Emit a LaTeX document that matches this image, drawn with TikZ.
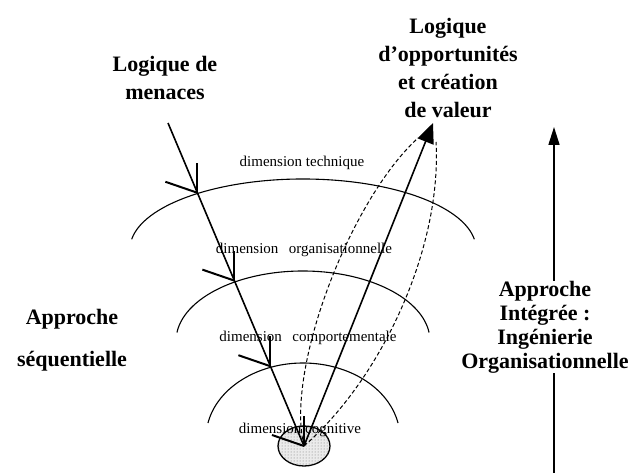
\documentclass[tikz,border=0pt]{standalone}
\usepackage{fontspec}
\setmainfont{Liberation Serif}
\usetikzlibrary{arrows.meta,calc,shapes.geometric,patterns}

\begin{document}
\begin{tikzpicture}[x=1pt,y=-1pt,
    big/.style={font=\fontsize{22}{28.3}\selectfont\bfseries, align=center, inner sep=0pt},
    dimlabel/.style={font=\fontsize{15}{18}\selectfont, inner sep=0pt},
    ring/.style={line width=1.1pt},
    barb/.style={line width=2pt},
    flow/.style={line width=1.6pt},
    dashflow/.style={line width=1pt, dash pattern=on 4pt off 2.5pt}]
  \useasboundingbox (0,0) rectangle (632,476);

  % cognitive core
  \node[draw, ellipse, line width=1.3pt, fill=black!8,
    postaction={pattern=dots, pattern color=black!55}, minimum width=52pt,
    minimum height=40pt, inner sep=0pt] (core) at (304,446) {};

  % the three rings (y axis points down)
  \draw[ring] (303,249) ++(-172:173 and 70)
    arc[start angle=-172, end angle=-8, x radius=173, y radius=70];
  \draw[ring] (303,341) ++(-173:127 and 70)
    arc[start angle=-173, end angle=-7, x radius=127, y radius=70];
  \draw[ring] (303,438) ++(-168.5:97 and 75)
    arc[start angle=-168.5, end angle=-11.5, x radius=97, y radius=75];

  % free ends
  \coordinate (mstart) at (168,123);
  \coordinate (tip) at (433,123);
  \coordinate (dleft) at (418,138);
  \coordinate (dright) at (436,142);
  \coordinate (rtop) at (554,127);
  \coordinate (rbot) at (554,473);

  % threats: sequential path
  \draw[flow] (mstart) -- (core.center);
  \foreach \t in {0.216,0.488,0.753,1} {
    \coordinate (hit) at ($(mstart)!\t!(core.center)$);
    \draw[barb] (hit) -- ++(0,-30);
    \draw[barb] (hit) -- ++(-32,-11);
  }

  % opportunities: integrated path
  \draw[dashflow] (core.center) .. controls (285,370) and (350,200) .. (dleft);
  \draw[dashflow] (core.center) .. controls (380,380) and (442,250) .. (dright);
  \draw[flow, -{Triangle[length=20pt, width=17pt]}] (core.center) -- (tip);

  % labels
  \node[big] (menace) at (165,78) {Logique de\\menaces};
  \node[big] (opport) at (448,68) {Logique\\d’opportunités\\et création\\de valeur};
  \node[big, font=\fontsize{22}{42}\selectfont\bfseries] (seq) at (72,340)
    {Approche\\séquentielle};
  \node[big, font=\fontsize{22}{24}\selectfont\bfseries] (integ) at (545,327)
    {Approche\\Intégrée :\\Ingénierie\\Organisationnelle};

  \node[dimlabel] (dtech) at (302,163) {dimension technique};
  \node[dimlabel] (dorga) at (304,250) {dimension\hspace{0.7em}organisationnelle};
  \node[dimlabel] (dcomp) at (308,338) {dimension\hspace{0.7em}comportementale};
  \node[dimlabel] (dcogn) at (300,430) {dimension cognitive};

  % integrated approach axis
  \draw[flow, -{Triangle[length=18pt, width=11pt]}] (integ.north -| rtop) -- (rtop);
  \draw[flow] (integ.south -| rbot) -- (rbot);
\end{tikzpicture}
\end{document}
